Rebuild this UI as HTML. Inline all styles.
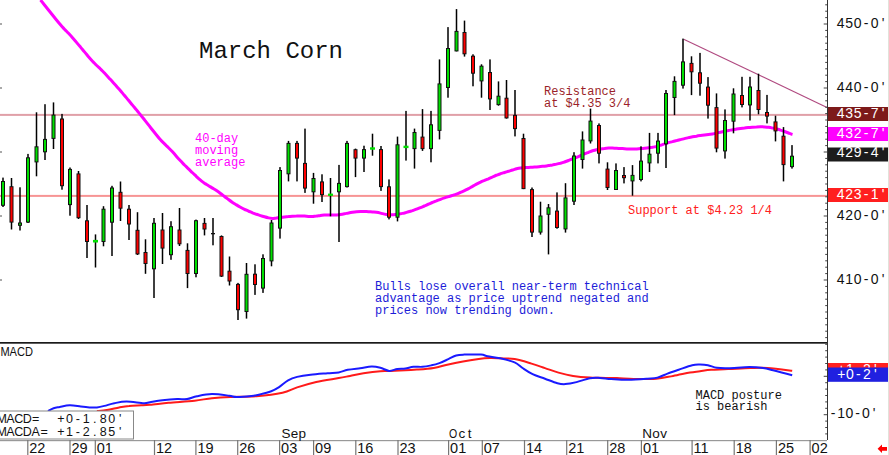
<!DOCTYPE html><html><head><meta charset="utf-8"><style>html,body{margin:0;padding:0;background:#fff;width:889px;height:455px;overflow:hidden}svg{position:absolute;left:0;top:0}.m{font-family:"Liberation Mono",monospace}.s{font-family:"Liberation Sans",sans-serif}</style></head><body>
<svg width="889" height="455" viewBox="0 0 889 455">
<rect x="0" y="0" width="889" height="455" fill="#fff"/>
<rect x="888" y="0" width="1" height="455" fill="#e2e2da"/>
<rect x="0" y="113.9" width="827" height="2" fill="#e0a0a8"/>
<rect x="0" y="194.9" width="827" height="2" fill="#f79494"/>
<line x1="683.7" y1="39.2" x2="827" y2="107.4" stroke="#b04a80" stroke-width="1.1"/>
<path d="M40.5,0.0 C41.2,0.8 43.2,3.3 44.5,5.0 C45.8,6.7 47.2,8.3 48.5,10.0 C49.8,11.7 51.2,13.3 52.5,15.0 C53.8,16.7 55.2,18.4 56.5,20.0 C57.8,21.6 59.2,23.3 60.5,24.8 C61.8,26.4 63.2,27.8 64.5,29.2 C65.8,30.6 67.2,31.9 68.5,33.3 C69.8,34.7 71.2,36.2 72.5,37.7 C73.8,39.2 75.2,40.8 76.5,42.4 C77.8,44.0 79.2,45.6 80.5,47.1 C81.8,48.7 83.2,50.3 84.5,51.9 C85.8,53.5 87.2,55.1 88.5,56.7 C89.8,58.2 91.2,59.8 92.5,61.2 C93.8,62.6 95.2,63.9 96.5,65.3 C97.8,66.6 99.2,67.7 100.5,69.0 C101.8,70.4 103.2,71.7 104.5,73.1 C105.8,74.5 107.2,76.0 108.5,77.4 C109.8,78.9 111.2,80.3 112.5,81.8 C113.8,83.3 115.2,84.7 116.5,86.2 C117.8,87.7 119.2,89.2 120.5,90.7 C121.8,92.3 123.2,93.9 124.5,95.5 C125.8,97.1 127.2,98.7 128.5,100.3 C129.8,101.9 131.2,103.5 132.5,105.1 C133.8,106.7 135.2,108.3 136.5,109.9 C137.8,111.6 139.2,113.2 140.5,114.8 C141.8,116.5 143.2,118.2 144.5,119.8 C145.8,121.5 147.2,123.2 148.5,124.9 C149.8,126.6 151.2,128.3 152.5,130.0 C153.8,131.7 155.2,133.4 156.5,135.0 C157.8,136.7 159.2,138.4 160.5,139.8 C161.8,141.3 163.2,142.6 164.5,143.9 C165.8,145.2 167.2,146.4 168.5,147.7 C169.8,149.0 171.2,150.4 172.5,151.8 C173.8,153.3 175.2,154.9 176.5,156.4 C177.8,157.9 179.2,159.4 180.5,160.8 C181.8,162.3 183.2,163.6 184.5,165.0 C185.8,166.3 187.2,167.6 188.5,168.9 C189.8,170.2 191.2,171.5 192.5,172.8 C193.8,174.1 195.2,175.3 196.5,176.6 C197.8,177.8 199.2,179.1 200.5,180.2 C201.8,181.3 203.2,182.3 204.5,183.3 C205.8,184.2 207.2,184.9 208.5,185.7 C209.8,186.5 211.2,187.3 212.5,188.1 C213.8,188.9 215.2,189.7 216.5,190.6 C217.8,191.5 219.2,192.5 220.5,193.5 C221.8,194.5 223.2,195.5 224.5,196.5 C225.8,197.5 227.2,198.5 228.5,199.5 C229.8,200.5 231.2,201.5 232.5,202.4 C233.8,203.3 235.2,204.1 236.5,204.9 C237.8,205.7 239.2,206.5 240.5,207.2 C241.8,208.0 243.2,208.7 244.5,209.3 C245.8,209.9 247.2,210.5 248.5,211.1 C249.8,211.7 251.2,212.2 252.5,212.8 C253.8,213.3 255.2,213.8 256.5,214.3 C257.8,214.7 259.2,215.2 260.5,215.6 C261.8,216.0 263.2,216.4 264.5,216.8 C265.8,217.2 267.2,217.6 268.5,217.9 C269.8,218.2 271.2,218.3 272.5,218.4 C273.8,218.4 275.2,218.1 276.5,218.0 C277.8,217.8 279.2,217.5 280.5,217.4 C281.8,217.2 283.2,217.1 284.5,216.9 C285.8,216.8 287.2,216.7 288.5,216.6 C289.8,216.4 291.2,216.3 292.5,216.2 C293.8,216.1 295.2,216.0 296.5,216.0 C297.8,215.9 299.2,215.9 300.5,216.0 C301.8,216.0 303.2,216.1 304.5,216.1 C305.8,216.2 307.2,216.3 308.5,216.4 C309.8,216.4 311.2,216.5 312.5,216.5 C313.8,216.4 315.2,216.2 316.5,216.1 C317.8,215.9 319.2,215.6 320.5,215.4 C321.8,215.2 323.2,215.1 324.5,215.0 C325.8,214.9 327.2,214.9 328.5,214.9 C329.8,214.9 331.2,215.0 332.5,215.0 C333.8,215.0 335.2,215.0 336.5,214.9 C337.8,214.8 339.2,214.7 340.5,214.5 C341.8,214.3 343.2,214.0 344.5,213.7 C345.8,213.5 347.2,213.2 348.5,213.0 C349.8,212.7 351.2,212.4 352.5,212.2 C353.8,212.0 355.2,211.8 356.5,211.7 C357.8,211.6 359.2,211.5 360.5,211.5 C361.8,211.5 363.2,211.5 364.5,211.5 C365.8,211.6 367.2,211.6 368.5,211.7 C369.8,211.8 371.2,211.9 372.5,212.0 C373.8,212.1 375.2,212.1 376.5,212.3 C377.8,212.5 379.2,212.8 380.5,213.1 C381.8,213.4 383.2,213.8 384.5,214.1 C385.8,214.4 387.2,214.6 388.5,214.7 C389.8,214.8 391.2,214.8 392.5,214.7 C393.8,214.7 395.2,214.5 396.5,214.4 C397.8,214.2 399.2,214.0 400.5,213.8 C401.8,213.5 403.2,213.3 404.5,213.0 C405.8,212.6 407.2,212.2 408.5,211.8 C409.8,211.4 411.2,211.0 412.5,210.6 C413.8,210.1 415.2,209.7 416.5,209.2 C417.8,208.7 419.2,208.1 420.5,207.6 C421.8,207.1 423.2,206.5 424.5,206.0 C425.8,205.4 427.2,204.8 428.5,204.2 C429.8,203.6 431.2,203.0 432.5,202.4 C433.8,201.9 435.2,201.3 436.5,200.8 C437.8,200.2 439.2,199.8 440.5,199.3 C441.8,198.8 443.2,198.3 444.5,197.9 C445.8,197.4 447.2,197.0 448.5,196.6 C449.8,196.2 451.2,195.9 452.5,195.4 C453.8,195.0 455.2,194.6 456.5,194.1 C457.8,193.6 459.2,193.0 460.5,192.4 C461.8,191.9 463.2,191.3 464.5,190.7 C465.8,190.0 467.2,189.3 468.5,188.6 C469.8,187.9 471.2,187.1 472.5,186.4 C473.8,185.6 475.2,184.8 476.5,184.1 C477.8,183.4 479.2,182.7 480.5,182.1 C481.8,181.4 483.2,180.9 484.5,180.4 C485.8,179.8 487.2,179.3 488.5,178.8 C489.8,178.2 491.2,177.6 492.5,177.0 C493.8,176.4 495.2,175.8 496.5,175.2 C497.8,174.7 499.2,174.1 500.5,173.7 C501.8,173.2 503.2,172.9 504.5,172.5 C505.8,172.1 507.2,171.7 508.5,171.3 C509.8,170.9 511.2,170.4 512.5,170.0 C513.8,169.6 515.2,169.1 516.5,168.7 C517.8,168.4 519.2,168.1 520.5,167.9 C521.8,167.7 523.2,167.7 524.5,167.6 C525.8,167.5 527.2,167.5 528.5,167.4 C529.8,167.3 531.2,167.3 532.5,167.2 C533.8,167.1 535.2,167.0 536.5,166.9 C537.8,166.8 539.2,166.7 540.5,166.5 C541.8,166.4 543.2,166.3 544.5,166.2 C545.8,166.0 547.2,165.8 548.5,165.6 C549.8,165.4 551.2,165.1 552.5,164.9 C553.8,164.6 555.2,164.4 556.5,164.1 C557.8,163.8 559.2,163.5 560.5,163.2 C561.8,162.8 563.2,162.4 564.5,162.0 C565.8,161.5 567.2,161.0 568.5,160.5 C569.8,160.0 571.2,159.5 572.5,158.9 C573.8,158.4 575.2,157.9 576.5,157.3 C577.8,156.8 579.2,156.2 580.5,155.6 C581.8,155.0 583.2,154.4 584.5,153.9 C585.8,153.3 587.2,152.8 588.5,152.3 C589.8,151.8 591.2,151.2 592.5,150.8 C593.8,150.4 595.2,150.0 596.5,149.7 C597.8,149.4 599.2,149.1 600.5,148.9 C601.8,148.7 603.2,148.5 604.5,148.4 C605.8,148.2 607.2,148.1 608.5,148.1 C609.8,148.1 611.2,148.1 612.5,148.1 C613.8,148.1 615.2,148.2 616.5,148.2 C617.8,148.3 619.2,148.4 620.5,148.4 C621.8,148.5 623.2,148.6 624.5,148.7 C625.8,148.8 627.2,148.9 628.5,148.9 C629.8,149.0 631.2,149.1 632.5,149.1 C633.8,149.1 635.2,149.1 636.5,149.0 C637.8,148.9 639.2,148.8 640.5,148.6 C641.8,148.5 643.2,148.4 644.5,148.2 C645.8,148.1 647.2,148.0 648.5,147.8 C649.8,147.6 651.2,147.5 652.5,147.3 C653.8,147.0 655.2,146.8 656.5,146.5 C657.8,146.1 659.2,145.7 660.5,145.2 C661.8,144.8 663.2,144.3 664.5,143.9 C665.8,143.4 667.2,143.0 668.5,142.6 C669.8,142.3 671.2,141.9 672.5,141.6 C673.8,141.2 675.2,140.9 676.5,140.6 C677.8,140.2 679.2,139.9 680.5,139.6 C681.8,139.3 683.2,138.9 684.5,138.6 C685.8,138.3 687.2,137.9 688.5,137.6 C689.8,137.3 691.2,137.1 692.5,136.8 C693.8,136.6 695.2,136.4 696.5,136.2 C697.8,135.9 699.2,135.7 700.5,135.5 C701.8,135.4 703.2,135.2 704.5,135.0 C705.8,134.8 707.2,134.6 708.5,134.4 C709.8,134.3 711.2,134.1 712.5,133.9 C713.8,133.7 715.2,133.4 716.5,133.1 C717.8,132.8 719.2,132.5 720.5,132.2 C721.8,131.9 723.2,131.6 724.5,131.3 C725.8,131.0 727.2,130.8 728.5,130.5 C729.8,130.3 731.2,130.0 732.5,129.8 C733.8,129.5 735.2,129.3 736.5,129.1 C737.8,128.9 739.2,128.7 740.5,128.5 C741.8,128.3 743.2,128.1 744.5,128.0 C745.8,127.8 747.2,127.7 748.5,127.6 C749.8,127.4 751.2,127.3 752.5,127.2 C753.8,127.1 755.2,127.0 756.5,127.0 C757.8,126.9 759.2,126.8 760.5,126.8 C761.8,126.8 763.2,126.8 764.5,126.9 C765.8,127.0 767.2,127.1 768.5,127.3 C769.8,127.5 771.2,127.8 772.5,128.1 C773.8,128.3 775.2,128.6 776.5,129.0 C777.8,129.3 779.2,129.6 780.5,130.1 C781.8,130.5 783.2,131.0 784.5,131.5 C785.8,132.0 787.2,132.5 788.5,133.0 C789.8,133.5 791.8,134.3 792.5,134.5" fill="none" stroke="#ff00ff" stroke-width="3" stroke-linejoin="round"/>
<rect x="2.25" y="177.6" width="1.5" height="29.4" fill="#000"/>
<rect x="1.0" y="181.0" width="4" height="24.8" fill="#111"/>
<rect x="2.0" y="182.0" width="2" height="22.8" fill="#00e000"/>
<rect x="10.75" y="178.0" width="1.5" height="51.5" fill="#000"/>
<rect x="9.5" y="186.2" width="4" height="36.4" fill="#111"/>
<rect x="10.5" y="187.2" width="2" height="34.4" fill="#ff0000"/>
<rect x="19.25" y="187.3" width="1.5" height="43.2" fill="#000"/>
<rect x="18.0" y="222.5" width="4" height="3.3" fill="#111"/>
<rect x="19.0" y="223.5" width="2" height="1.3" fill="#00e000"/>
<rect x="27.25" y="153.9" width="1.5" height="69.1" fill="#000"/>
<rect x="26.0" y="157.3" width="4" height="65.3" fill="#111"/>
<rect x="27.0" y="158.3" width="2" height="63.3" fill="#00e000"/>
<rect x="35.75" y="112.3" width="1.5" height="64.0" fill="#000"/>
<rect x="34.5" y="146.3" width="4" height="16.1" fill="#111"/>
<rect x="35.5" y="147.3" width="2" height="14.1" fill="#00e000"/>
<rect x="44.25" y="104.2" width="1.5" height="55.8" fill="#000"/>
<rect x="43.0" y="138.9" width="4" height="13.4" fill="#111"/>
<rect x="44.0" y="139.9" width="2" height="11.4" fill="#00e000"/>
<rect x="52.75" y="102.4" width="1.5" height="46.6" fill="#000"/>
<rect x="51.5" y="114.6" width="4" height="24.3" fill="#111"/>
<rect x="52.5" y="115.6" width="2" height="22.3" fill="#00e000"/>
<rect x="61.25" y="113.9" width="1.5" height="75.8" fill="#000"/>
<rect x="60.0" y="118.5" width="4" height="67.7" fill="#111"/>
<rect x="61.0" y="119.5" width="2" height="65.7" fill="#ff0000"/>
<rect x="69.25" y="167.5" width="1.5" height="48.2" fill="#000"/>
<rect x="68.0" y="168.9" width="4" height="36.2" fill="#111"/>
<rect x="69.0" y="169.9" width="2" height="34.2" fill="#00e000"/>
<rect x="77.75" y="171.0" width="1.5" height="48.0" fill="#000"/>
<rect x="76.5" y="173.4" width="4" height="44.8" fill="#111"/>
<rect x="77.5" y="174.4" width="2" height="42.8" fill="#ff0000"/>
<rect x="86.25" y="205.0" width="1.5" height="53.0" fill="#000"/>
<rect x="85.0" y="220.3" width="4" height="21.7" fill="#111"/>
<rect x="86.0" y="221.3" width="2" height="19.7" fill="#ff0000"/>
<rect x="94.75" y="234.4" width="1.5" height="33.1" fill="#000"/>
<rect x="93.0" y="239.9" width="5" height="2.6" fill="#00e000"/>
<rect x="102.75" y="206.2" width="1.5" height="40.1" fill="#000"/>
<rect x="101.5" y="208.7" width="4" height="33.3" fill="#111"/>
<rect x="102.5" y="209.7" width="2" height="31.3" fill="#00e000"/>
<rect x="111.25" y="185.8" width="1.5" height="70.2" fill="#000"/>
<rect x="110.0" y="187.5" width="4" height="35.2" fill="#111"/>
<rect x="111.0" y="188.5" width="2" height="33.2" fill="#00e000"/>
<rect x="119.75" y="181.5" width="1.5" height="39.5" fill="#000"/>
<rect x="118.5" y="191.8" width="4" height="16.9" fill="#111"/>
<rect x="119.5" y="192.8" width="2" height="14.9" fill="#ff0000"/>
<rect x="128.25" y="205.0" width="1.5" height="35.0" fill="#000"/>
<rect x="127.0" y="208.7" width="4" height="15.8" fill="#111"/>
<rect x="128.0" y="209.7" width="2" height="13.8" fill="#ff0000"/>
<rect x="136.75" y="212.2" width="1.5" height="42.8" fill="#000"/>
<rect x="135.5" y="229.8" width="4" height="24.6" fill="#111"/>
<rect x="136.5" y="230.8" width="2" height="22.6" fill="#ff0000"/>
<rect x="144.75" y="239.3" width="1.5" height="34.5" fill="#000"/>
<rect x="143.5" y="252.0" width="4" height="12.0" fill="#111"/>
<rect x="144.5" y="253.0" width="2" height="10.0" fill="#ff0000"/>
<rect x="153.25" y="218.0" width="1.5" height="80.0" fill="#000"/>
<rect x="152.0" y="222.8" width="4" height="46.5" fill="#111"/>
<rect x="153.0" y="223.8" width="2" height="44.5" fill="#00e000"/>
<rect x="161.75" y="213.0" width="1.5" height="51.0" fill="#000"/>
<rect x="160.5" y="229.5" width="4" height="19.1" fill="#111"/>
<rect x="161.5" y="230.5" width="2" height="17.1" fill="#ff0000"/>
<rect x="170.25" y="221.2" width="1.5" height="38.6" fill="#000"/>
<rect x="169.0" y="226.2" width="4" height="29.0" fill="#111"/>
<rect x="170.0" y="227.2" width="2" height="27.0" fill="#00e000"/>
<rect x="178.75" y="208.0" width="1.5" height="38.0" fill="#000"/>
<rect x="177.5" y="229.5" width="4" height="14.8" fill="#111"/>
<rect x="178.5" y="230.5" width="2" height="12.8" fill="#ff0000"/>
<rect x="186.75" y="243.3" width="1.5" height="44.8" fill="#000"/>
<rect x="185.5" y="249.9" width="4" height="24.1" fill="#111"/>
<rect x="186.5" y="250.9" width="2" height="22.1" fill="#ff0000"/>
<rect x="195.25" y="219.6" width="1.5" height="57.7" fill="#000"/>
<rect x="194.0" y="220.2" width="4" height="53.8" fill="#111"/>
<rect x="195.0" y="221.2" width="2" height="51.8" fill="#00e000"/>
<rect x="203.75" y="218.0" width="1.5" height="17.4" fill="#000"/>
<rect x="202.5" y="222.9" width="4" height="6.6" fill="#111"/>
<rect x="203.5" y="223.9" width="2" height="4.6" fill="#ff0000"/>
<rect x="212.25" y="218.0" width="1.5" height="27.3" fill="#000"/>
<rect x="211.0" y="233.0" width="4" height="1.3" fill="#111"/>
<rect x="220.75" y="235.4" width="1.5" height="41.6" fill="#000"/>
<rect x="219.5" y="236.0" width="4" height="40.6" fill="#111"/>
<rect x="220.5" y="237.0" width="2" height="38.6" fill="#ff0000"/>
<rect x="228.75" y="256.5" width="1.5" height="29.0" fill="#000"/>
<rect x="227.5" y="270.7" width="4" height="10.8" fill="#111"/>
<rect x="228.5" y="271.7" width="2" height="8.8" fill="#ff0000"/>
<rect x="237.25" y="282.9" width="1.5" height="37.1" fill="#000"/>
<rect x="236.0" y="283.9" width="4" height="26.3" fill="#111"/>
<rect x="237.0" y="284.9" width="2" height="24.3" fill="#ff0000"/>
<rect x="245.75" y="263.0" width="1.5" height="55.6" fill="#000"/>
<rect x="244.5" y="273.8" width="4" height="38.2" fill="#111"/>
<rect x="245.5" y="274.8" width="2" height="36.2" fill="#00e000"/>
<rect x="254.25" y="264.3" width="1.5" height="30.6" fill="#000"/>
<rect x="253.0" y="273.7" width="4" height="11.3" fill="#111"/>
<rect x="254.0" y="274.7" width="2" height="9.3" fill="#ff0000"/>
<rect x="262.25" y="254.3" width="1.5" height="38.6" fill="#000"/>
<rect x="261.0" y="258.0" width="4" height="30.6" fill="#111"/>
<rect x="262.0" y="259.0" width="2" height="28.6" fill="#00e000"/>
<rect x="270.75" y="220.0" width="1.5" height="46.3" fill="#000"/>
<rect x="269.5" y="222.5" width="4" height="38.9" fill="#111"/>
<rect x="270.5" y="223.5" width="2" height="36.9" fill="#00e000"/>
<rect x="279.25" y="167.1" width="1.5" height="71.5" fill="#000"/>
<rect x="278.0" y="170.0" width="4" height="58.6" fill="#111"/>
<rect x="279.0" y="171.0" width="2" height="56.6" fill="#00e000"/>
<rect x="287.75" y="140.9" width="1.5" height="40.5" fill="#000"/>
<rect x="286.5" y="142.9" width="4" height="31.4" fill="#111"/>
<rect x="287.5" y="143.9" width="2" height="29.4" fill="#00e000"/>
<rect x="296.25" y="140.9" width="1.5" height="40.5" fill="#000"/>
<rect x="295.0" y="142.9" width="4" height="15.7" fill="#111"/>
<rect x="296.0" y="143.9" width="2" height="13.7" fill="#ff0000"/>
<rect x="304.25" y="128.6" width="1.5" height="64.3" fill="#000"/>
<rect x="303.0" y="162.9" width="4" height="25.7" fill="#111"/>
<rect x="304.0" y="163.9" width="2" height="23.7" fill="#ff0000"/>
<rect x="312.75" y="172.9" width="1.5" height="30.8" fill="#000"/>
<rect x="311.5" y="178.0" width="4" height="14.3" fill="#111"/>
<rect x="312.5" y="179.0" width="2" height="12.3" fill="#00e000"/>
<rect x="321.25" y="174.3" width="1.5" height="27.7" fill="#000"/>
<rect x="320.0" y="181.4" width="4" height="13.7" fill="#111"/>
<rect x="321.0" y="182.4" width="2" height="11.7" fill="#ff0000"/>
<rect x="329.75" y="178.0" width="1.5" height="38.3" fill="#000"/>
<rect x="328.0" y="193.6" width="5" height="2.3" fill="#00e000"/>
<rect x="338.25" y="164.9" width="1.5" height="77.1" fill="#000"/>
<rect x="337.0" y="182.9" width="4" height="9.4" fill="#111"/>
<rect x="338.0" y="183.9" width="2" height="7.4" fill="#00e000"/>
<rect x="346.25" y="140.9" width="1.5" height="46.6" fill="#000"/>
<rect x="345.0" y="142.9" width="4" height="44.2" fill="#111"/>
<rect x="346.0" y="143.9" width="2" height="42.2" fill="#00e000"/>
<rect x="354.75" y="148.6" width="1.5" height="28.5" fill="#000"/>
<rect x="353.5" y="149.2" width="4" height="9.4" fill="#111"/>
<rect x="354.5" y="150.2" width="2" height="7.4" fill="#ff0000"/>
<rect x="363.25" y="145.7" width="1.5" height="26.3" fill="#000"/>
<rect x="362.0" y="149.1" width="4" height="9.5" fill="#111"/>
<rect x="363.0" y="150.1" width="2" height="7.5" fill="#00e000"/>
<rect x="371.75" y="133.7" width="1.5" height="22.0" fill="#000"/>
<rect x="370.0" y="147.3" width="5" height="2.4" fill="#00e000"/>
<rect x="380.25" y="146.0" width="1.5" height="44.9" fill="#000"/>
<rect x="379.0" y="149.1" width="4" height="38.0" fill="#111"/>
<rect x="380.0" y="150.1" width="2" height="36.0" fill="#ff0000"/>
<rect x="388.25" y="179.4" width="1.5" height="40.0" fill="#000"/>
<rect x="387.0" y="186.3" width="4" height="31.4" fill="#111"/>
<rect x="388.0" y="187.3" width="2" height="29.4" fill="#ff0000"/>
<rect x="396.75" y="136.6" width="1.5" height="84.8" fill="#000"/>
<rect x="395.5" y="144.3" width="4" height="73.4" fill="#111"/>
<rect x="396.5" y="145.3" width="2" height="71.4" fill="#00e000"/>
<rect x="405.25" y="110.9" width="1.5" height="49.7" fill="#000"/>
<rect x="403.5" y="145.7" width="5" height="2.4" fill="#00e000"/>
<rect x="413.75" y="128.6" width="1.5" height="40.0" fill="#000"/>
<rect x="412.5" y="132.0" width="4" height="17.1" fill="#111"/>
<rect x="413.5" y="133.0" width="2" height="15.1" fill="#00e000"/>
<rect x="421.75" y="109.1" width="1.5" height="41.8" fill="#000"/>
<rect x="420.5" y="136.6" width="4" height="12.5" fill="#111"/>
<rect x="421.5" y="137.6" width="2" height="10.5" fill="#ff0000"/>
<rect x="430.25" y="110.9" width="1.5" height="51.4" fill="#000"/>
<rect x="429.0" y="124.3" width="4" height="24.8" fill="#111"/>
<rect x="430.0" y="125.3" width="2" height="22.8" fill="#00e000"/>
<rect x="438.75" y="59.4" width="1.5" height="80.0" fill="#000"/>
<rect x="437.5" y="83.4" width="4" height="47.5" fill="#111"/>
<rect x="438.5" y="84.4" width="2" height="45.5" fill="#00e000"/>
<rect x="447.25" y="27.1" width="1.5" height="70.6" fill="#000"/>
<rect x="446.0" y="48.0" width="4" height="40.0" fill="#111"/>
<rect x="447.0" y="49.0" width="2" height="38.0" fill="#00e000"/>
<rect x="455.75" y="9.1" width="1.5" height="42.3" fill="#000"/>
<rect x="454.5" y="30.9" width="4" height="20.5" fill="#111"/>
<rect x="455.5" y="31.9" width="2" height="18.5" fill="#00e000"/>
<rect x="463.75" y="20.6" width="1.5" height="36.0" fill="#000"/>
<rect x="462.5" y="32.0" width="4" height="22.3" fill="#111"/>
<rect x="463.5" y="33.0" width="2" height="20.3" fill="#ff0000"/>
<rect x="472.25" y="54.3" width="1.5" height="32.0" fill="#000"/>
<rect x="471.0" y="55.7" width="4" height="18.0" fill="#111"/>
<rect x="472.0" y="56.7" width="2" height="16.0" fill="#ff0000"/>
<rect x="480.75" y="64.3" width="1.5" height="33.4" fill="#000"/>
<rect x="479.5" y="65.7" width="4" height="15.7" fill="#111"/>
<rect x="480.5" y="66.7" width="2" height="13.7" fill="#00e000"/>
<rect x="489.25" y="59.4" width="1.5" height="50.6" fill="#000"/>
<rect x="488.0" y="72.0" width="4" height="27.4" fill="#111"/>
<rect x="489.0" y="73.0" width="2" height="25.4" fill="#ff0000"/>
<rect x="497.75" y="81.4" width="1.5" height="24.3" fill="#000"/>
<rect x="496.5" y="95.7" width="4" height="9.4" fill="#111"/>
<rect x="497.5" y="96.7" width="2" height="7.4" fill="#00e000"/>
<rect x="505.75" y="80.0" width="1.5" height="38.6" fill="#000"/>
<rect x="504.5" y="97.7" width="4" height="20.7" fill="#111"/>
<rect x="505.5" y="98.7" width="2" height="18.7" fill="#ff0000"/>
<rect x="514.25" y="90.0" width="1.5" height="46.4" fill="#000"/>
<rect x="513.0" y="114.9" width="4" height="14.2" fill="#111"/>
<rect x="514.0" y="115.9" width="2" height="12.2" fill="#ff0000"/>
<rect x="522.75" y="133.7" width="1.5" height="55.4" fill="#000"/>
<rect x="521.5" y="138.0" width="4" height="51.1" fill="#111"/>
<rect x="522.5" y="139.0" width="2" height="49.1" fill="#ff0000"/>
<rect x="531.25" y="187.5" width="1.5" height="49.5" fill="#000"/>
<rect x="530.0" y="189.1" width="4" height="43.5" fill="#111"/>
<rect x="531.0" y="190.1" width="2" height="41.5" fill="#ff0000"/>
<rect x="539.75" y="201.7" width="1.5" height="32.9" fill="#000"/>
<rect x="538.5" y="215.5" width="4" height="17.1" fill="#111"/>
<rect x="539.5" y="216.5" width="2" height="15.1" fill="#00e000"/>
<rect x="547.75" y="204.0" width="1.5" height="50.4" fill="#000"/>
<rect x="546.5" y="207.3" width="4" height="7.5" fill="#111"/>
<rect x="547.5" y="208.3" width="2" height="5.5" fill="#00e000"/>
<rect x="556.25" y="192.4" width="1.5" height="36.3" fill="#000"/>
<rect x="555.0" y="210.6" width="4" height="17.4" fill="#111"/>
<rect x="556.0" y="211.6" width="2" height="15.4" fill="#ff0000"/>
<rect x="564.75" y="183.2" width="1.5" height="49.4" fill="#000"/>
<rect x="563.5" y="197.4" width="4" height="32.0" fill="#111"/>
<rect x="564.5" y="198.4" width="2" height="30.0" fill="#00e000"/>
<rect x="573.25" y="152.2" width="1.5" height="52.8" fill="#000"/>
<rect x="572.0" y="155.5" width="4" height="46.2" fill="#111"/>
<rect x="573.0" y="156.5" width="2" height="44.2" fill="#00e000"/>
<rect x="581.75" y="131.4" width="1.5" height="37.2" fill="#000"/>
<rect x="580.5" y="139.5" width="4" height="20.5" fill="#111"/>
<rect x="581.5" y="140.5" width="2" height="18.5" fill="#00e000"/>
<rect x="589.75" y="108.6" width="1.5" height="34.9" fill="#000"/>
<rect x="588.5" y="120.6" width="4" height="20.8" fill="#111"/>
<rect x="589.5" y="121.6" width="2" height="18.8" fill="#00e000"/>
<rect x="598.25" y="123.4" width="1.5" height="40.0" fill="#000"/>
<rect x="597.0" y="125.0" width="4" height="28.7" fill="#111"/>
<rect x="598.0" y="126.0" width="2" height="26.7" fill="#ff0000"/>
<rect x="606.75" y="162.3" width="1.5" height="27.7" fill="#000"/>
<rect x="605.5" y="168.6" width="4" height="19.4" fill="#111"/>
<rect x="606.5" y="169.6" width="2" height="17.4" fill="#ff0000"/>
<rect x="615.25" y="163.4" width="1.5" height="26.6" fill="#000"/>
<rect x="614.0" y="170.0" width="4" height="20.0" fill="#111"/>
<rect x="615.0" y="171.0" width="2" height="18.0" fill="#00e000"/>
<rect x="623.25" y="167.1" width="1.5" height="16.3" fill="#000"/>
<rect x="622.0" y="175.0" width="4" height="3.2" fill="#111"/>
<rect x="623.0" y="176.0" width="2" height="1.2" fill="#ff0000"/>
<rect x="631.75" y="165.1" width="1.5" height="30.6" fill="#000"/>
<rect x="630.5" y="174.9" width="4" height="6.5" fill="#111"/>
<rect x="631.5" y="175.9" width="2" height="4.5" fill="#00e000"/>
<rect x="640.25" y="146.3" width="1.5" height="35.1" fill="#000"/>
<rect x="639.0" y="160.6" width="4" height="19.4" fill="#111"/>
<rect x="640.0" y="161.6" width="2" height="17.4" fill="#00e000"/>
<rect x="648.75" y="132.9" width="1.5" height="39.1" fill="#000"/>
<rect x="647.5" y="153.7" width="4" height="9.7" fill="#111"/>
<rect x="648.5" y="154.7" width="2" height="7.7" fill="#00e000"/>
<rect x="657.25" y="132.9" width="1.5" height="30.5" fill="#000"/>
<rect x="656.0" y="140.6" width="4" height="13.1" fill="#111"/>
<rect x="657.0" y="141.6" width="2" height="11.1" fill="#00e000"/>
<rect x="665.25" y="90.0" width="1.5" height="78.0" fill="#000"/>
<rect x="664.0" y="93.0" width="4" height="51.3" fill="#111"/>
<rect x="665.0" y="94.0" width="2" height="49.3" fill="#00e000"/>
<rect x="673.75" y="76.3" width="1.5" height="38.8" fill="#000"/>
<rect x="672.5" y="80.9" width="4" height="17.1" fill="#111"/>
<rect x="673.5" y="81.9" width="2" height="15.1" fill="#00e000"/>
<rect x="682.25" y="38.6" width="1.5" height="50.0" fill="#000"/>
<rect x="681.0" y="61.4" width="4" height="24.3" fill="#111"/>
<rect x="682.0" y="62.4" width="2" height="22.3" fill="#00e000"/>
<rect x="690.75" y="56.3" width="1.5" height="38.8" fill="#000"/>
<rect x="689.5" y="62.9" width="4" height="9.4" fill="#111"/>
<rect x="690.5" y="63.9" width="2" height="7.4" fill="#ff0000"/>
<rect x="699.25" y="52.9" width="1.5" height="42.8" fill="#000"/>
<rect x="698.0" y="72.3" width="4" height="11.4" fill="#111"/>
<rect x="699.0" y="73.3" width="2" height="9.4" fill="#ff0000"/>
<rect x="707.25" y="77.1" width="1.5" height="41.5" fill="#000"/>
<rect x="706.0" y="86.6" width="4" height="19.1" fill="#111"/>
<rect x="707.0" y="87.6" width="2" height="17.1" fill="#ff0000"/>
<rect x="715.75" y="93.4" width="1.5" height="58.9" fill="#000"/>
<rect x="714.5" y="107.1" width="4" height="41.5" fill="#111"/>
<rect x="715.5" y="108.1" width="2" height="39.5" fill="#ff0000"/>
<rect x="724.25" y="109.4" width="1.5" height="49.2" fill="#000"/>
<rect x="723.0" y="120.0" width="4" height="31.4" fill="#111"/>
<rect x="724.0" y="121.0" width="2" height="29.4" fill="#00e000"/>
<rect x="732.75" y="88.3" width="1.5" height="45.0" fill="#000"/>
<rect x="731.5" y="93.5" width="4" height="28.2" fill="#111"/>
<rect x="732.5" y="94.5" width="2" height="26.2" fill="#00e000"/>
<rect x="741.25" y="76.8" width="1.5" height="30.6" fill="#000"/>
<rect x="740.0" y="95.0" width="4" height="10.0" fill="#111"/>
<rect x="741.0" y="96.0" width="2" height="8.0" fill="#ff0000"/>
<rect x="749.25" y="76.8" width="1.5" height="43.7" fill="#000"/>
<rect x="748.0" y="86.5" width="4" height="18.9" fill="#111"/>
<rect x="749.0" y="87.5" width="2" height="16.9" fill="#00e000"/>
<rect x="757.75" y="73.7" width="1.5" height="40.6" fill="#000"/>
<rect x="756.5" y="90.0" width="4" height="20.0" fill="#111"/>
<rect x="757.5" y="91.0" width="2" height="18.0" fill="#ff0000"/>
<rect x="766.25" y="94.9" width="1.5" height="28.5" fill="#000"/>
<rect x="765.0" y="112.0" width="4" height="4.6" fill="#111"/>
<rect x="766.0" y="113.0" width="2" height="2.6" fill="#ff0000"/>
<rect x="774.75" y="115.7" width="1.5" height="25.7" fill="#000"/>
<rect x="773.5" y="121.4" width="4" height="10.0" fill="#111"/>
<rect x="774.5" y="122.4" width="2" height="8.0" fill="#ff0000"/>
<rect x="782.75" y="127.1" width="1.5" height="54.3" fill="#000"/>
<rect x="781.5" y="135.7" width="4" height="29.4" fill="#111"/>
<rect x="782.5" y="136.7" width="2" height="27.4" fill="#ff0000"/>
<rect x="791.25" y="145.1" width="1.5" height="23.5" fill="#000"/>
<rect x="790.0" y="155.7" width="4" height="11.4" fill="#111"/>
<rect x="791.0" y="156.7" width="2" height="9.4" fill="#00e000"/>
<rect x="827" y="0" width="1" height="440" fill="#333"/>
<rect x="825.2" y="4.3" width="1.8" height="1" fill="#444"/>
<rect x="825.2" y="10.7" width="1.8" height="1" fill="#444"/>
<rect x="825.2" y="17.1" width="1.8" height="1" fill="#444"/>
<rect x="823.7" y="23.5" width="3.3" height="1" fill="#444"/>
<rect x="825.2" y="29.9" width="1.8" height="1" fill="#444"/>
<rect x="825.2" y="36.3" width="1.8" height="1" fill="#444"/>
<rect x="825.2" y="42.7" width="1.8" height="1" fill="#444"/>
<rect x="825.2" y="49.1" width="1.8" height="1" fill="#444"/>
<rect x="825.2" y="55.5" width="1.8" height="1" fill="#444"/>
<rect x="825.2" y="61.9" width="1.8" height="1" fill="#444"/>
<rect x="825.2" y="68.3" width="1.8" height="1" fill="#444"/>
<rect x="825.2" y="74.7" width="1.8" height="1" fill="#444"/>
<rect x="825.2" y="81.1" width="1.8" height="1" fill="#444"/>
<rect x="823.7" y="87.5" width="3.3" height="1" fill="#444"/>
<rect x="825.2" y="93.9" width="1.8" height="1" fill="#444"/>
<rect x="825.2" y="100.3" width="1.8" height="1" fill="#444"/>
<rect x="825.2" y="106.7" width="1.8" height="1" fill="#444"/>
<rect x="825.2" y="113.1" width="1.8" height="1" fill="#444"/>
<rect x="825.2" y="119.5" width="1.8" height="1" fill="#444"/>
<rect x="825.2" y="125.9" width="1.8" height="1" fill="#444"/>
<rect x="825.2" y="132.3" width="1.8" height="1" fill="#444"/>
<rect x="825.2" y="138.7" width="1.8" height="1" fill="#444"/>
<rect x="825.2" y="145.1" width="1.8" height="1" fill="#444"/>
<rect x="823.7" y="151.5" width="3.3" height="1" fill="#444"/>
<rect x="825.2" y="157.9" width="1.8" height="1" fill="#444"/>
<rect x="825.2" y="164.3" width="1.8" height="1" fill="#444"/>
<rect x="825.2" y="170.7" width="1.8" height="1" fill="#444"/>
<rect x="825.2" y="177.1" width="1.8" height="1" fill="#444"/>
<rect x="825.2" y="183.5" width="1.8" height="1" fill="#444"/>
<rect x="825.2" y="189.9" width="1.8" height="1" fill="#444"/>
<rect x="825.2" y="196.3" width="1.8" height="1" fill="#444"/>
<rect x="825.2" y="202.7" width="1.8" height="1" fill="#444"/>
<rect x="825.2" y="209.1" width="1.8" height="1" fill="#444"/>
<rect x="823.7" y="215.5" width="3.3" height="1" fill="#444"/>
<rect x="825.2" y="221.9" width="1.8" height="1" fill="#444"/>
<rect x="825.2" y="228.3" width="1.8" height="1" fill="#444"/>
<rect x="825.2" y="234.7" width="1.8" height="1" fill="#444"/>
<rect x="825.2" y="241.1" width="1.8" height="1" fill="#444"/>
<rect x="825.2" y="247.5" width="1.8" height="1" fill="#444"/>
<rect x="825.2" y="253.9" width="1.8" height="1" fill="#444"/>
<rect x="825.2" y="260.3" width="1.8" height="1" fill="#444"/>
<rect x="825.2" y="266.7" width="1.8" height="1" fill="#444"/>
<rect x="825.2" y="273.1" width="1.8" height="1" fill="#444"/>
<rect x="823.7" y="279.5" width="3.3" height="1" fill="#444"/>
<rect x="825.2" y="285.9" width="1.8" height="1" fill="#444"/>
<rect x="825.2" y="292.3" width="1.8" height="1" fill="#444"/>
<rect x="825.2" y="298.7" width="1.8" height="1" fill="#444"/>
<rect x="825.2" y="305.1" width="1.8" height="1" fill="#444"/>
<rect x="825.2" y="311.5" width="1.8" height="1" fill="#444"/>
<rect x="825.2" y="317.9" width="1.8" height="1" fill="#444"/>
<rect x="825.2" y="324.3" width="1.8" height="1" fill="#444"/>
<rect x="825.2" y="330.7" width="1.8" height="1" fill="#444"/>
<rect x="825.2" y="337.1" width="1.8" height="1" fill="#444"/>
<rect x="0" y="23.5" width="2" height="1" fill="#555"/>
<rect x="0" y="87.5" width="2" height="1" fill="#555"/>
<rect x="0" y="151.5" width="2" height="1" fill="#555"/>
<rect x="0" y="215.5" width="2" height="1" fill="#555"/>
<rect x="0" y="279.5" width="2" height="1" fill="#555"/>
<text x="840.6" y="27.9" text-anchor="middle" class="s" font-size="14" fill="#111">4</text><text x="849.1" y="27.9" text-anchor="middle" class="s" font-size="14" fill="#111">5</text><text x="857.6" y="27.9" text-anchor="middle" class="s" font-size="14" fill="#111">0</text><text x="866.1" y="27.9" text-anchor="middle" class="s" font-size="14" fill="#111">-</text><text x="874.6" y="27.9" text-anchor="middle" class="s" font-size="14" fill="#111">0</text><text x="883.1" y="27.9" text-anchor="middle" class="s" font-size="14" fill="#111">'</text>
<text x="840.6" y="91.9" text-anchor="middle" class="s" font-size="14" fill="#111">4</text><text x="849.1" y="91.9" text-anchor="middle" class="s" font-size="14" fill="#111">4</text><text x="857.6" y="91.9" text-anchor="middle" class="s" font-size="14" fill="#111">0</text><text x="866.1" y="91.9" text-anchor="middle" class="s" font-size="14" fill="#111">-</text><text x="874.6" y="91.9" text-anchor="middle" class="s" font-size="14" fill="#111">0</text><text x="883.1" y="91.9" text-anchor="middle" class="s" font-size="14" fill="#111">'</text>
<text x="840.6" y="219.9" text-anchor="middle" class="s" font-size="14" fill="#111">4</text><text x="849.1" y="219.9" text-anchor="middle" class="s" font-size="14" fill="#111">2</text><text x="857.6" y="219.9" text-anchor="middle" class="s" font-size="14" fill="#111">0</text><text x="866.1" y="219.9" text-anchor="middle" class="s" font-size="14" fill="#111">-</text><text x="874.6" y="219.9" text-anchor="middle" class="s" font-size="14" fill="#111">0</text><text x="883.1" y="219.9" text-anchor="middle" class="s" font-size="14" fill="#111">'</text>
<text x="840.6" y="283.9" text-anchor="middle" class="s" font-size="14" fill="#111">4</text><text x="849.1" y="283.9" text-anchor="middle" class="s" font-size="14" fill="#111">1</text><text x="857.6" y="283.9" text-anchor="middle" class="s" font-size="14" fill="#111">0</text><text x="866.1" y="283.9" text-anchor="middle" class="s" font-size="14" fill="#111">-</text><text x="874.6" y="283.9" text-anchor="middle" class="s" font-size="14" fill="#111">0</text><text x="883.1" y="283.9" text-anchor="middle" class="s" font-size="14" fill="#111">'</text>
<rect x="828" y="107" width="60" height="14" fill="#7d1a1a"/>
<text x="840.6" y="117.9" text-anchor="middle" class="s" font-size="14" fill="#fff">4</text><text x="849.1" y="117.9" text-anchor="middle" class="s" font-size="14" fill="#fff">3</text><text x="857.6" y="117.9" text-anchor="middle" class="s" font-size="14" fill="#fff">5</text><text x="866.1" y="117.9" text-anchor="middle" class="s" font-size="14" fill="#fff">-</text><text x="874.6" y="117.9" text-anchor="middle" class="s" font-size="14" fill="#fff">7</text><text x="883.1" y="117.9" text-anchor="middle" class="s" font-size="14" fill="#fff">'</text>
<rect x="828" y="127" width="60" height="14" fill="#ff00ff"/>
<text x="840.6" y="137.9" text-anchor="middle" class="s" font-size="14" fill="#fff">4</text><text x="849.1" y="137.9" text-anchor="middle" class="s" font-size="14" fill="#fff">3</text><text x="857.6" y="137.9" text-anchor="middle" class="s" font-size="14" fill="#fff">2</text><text x="866.1" y="137.9" text-anchor="middle" class="s" font-size="14" fill="#fff">-</text><text x="874.6" y="137.9" text-anchor="middle" class="s" font-size="14" fill="#fff">7</text><text x="883.1" y="137.9" text-anchor="middle" class="s" font-size="14" fill="#fff">'</text>
<rect x="828" y="147.5" width="60" height="14.0" fill="#1c1c1c"/>
<text x="840.6" y="156.6" text-anchor="middle" class="s" font-size="14" fill="#fff">4</text><text x="849.1" y="156.6" text-anchor="middle" class="s" font-size="14" fill="#fff">2</text><text x="857.6" y="156.6" text-anchor="middle" class="s" font-size="14" fill="#fff">9</text><text x="866.1" y="156.6" text-anchor="middle" class="s" font-size="14" fill="#fff">-</text><text x="874.6" y="156.6" text-anchor="middle" class="s" font-size="14" fill="#fff">4</text><text x="883.1" y="156.6" text-anchor="middle" class="s" font-size="14" fill="#fff">'</text>
<rect x="828" y="188" width="60" height="14" fill="#ff1f1f"/>
<text x="840.6" y="198.9" text-anchor="middle" class="s" font-size="14" fill="#fff">4</text><text x="849.1" y="198.9" text-anchor="middle" class="s" font-size="14" fill="#fff">2</text><text x="857.6" y="198.9" text-anchor="middle" class="s" font-size="14" fill="#fff">3</text><text x="866.1" y="198.9" text-anchor="middle" class="s" font-size="14" fill="#fff">-</text><text x="874.6" y="198.9" text-anchor="middle" class="s" font-size="14" fill="#fff">1</text><text x="883.1" y="198.9" text-anchor="middle" class="s" font-size="14" fill="#fff">'</text>
<rect x="0" y="342" width="827" height="1.7" fill="#1a1a1a"/>
<rect x="825.2" y="343.8" width="1.8" height="1" fill="#444"/>
<rect x="825.2" y="350.2" width="1.8" height="1" fill="#444"/>
<rect x="825.2" y="356.6" width="1.8" height="1" fill="#444"/>
<rect x="825.2" y="363.0" width="1.8" height="1" fill="#444"/>
<rect x="825.2" y="369.4" width="1.8" height="1" fill="#444"/>
<rect x="823.7" y="375.8" width="3.3" height="1" fill="#444"/>
<rect x="825.2" y="382.2" width="1.8" height="1" fill="#444"/>
<rect x="825.2" y="388.6" width="1.8" height="1" fill="#444"/>
<rect x="825.2" y="395.0" width="1.8" height="1" fill="#444"/>
<rect x="825.2" y="401.4" width="1.8" height="1" fill="#444"/>
<rect x="825.2" y="407.8" width="1.8" height="1" fill="#444"/>
<rect x="823.7" y="414.2" width="3.3" height="1" fill="#444"/>
<rect x="825.2" y="420.6" width="1.8" height="1" fill="#444"/>
<rect x="825.2" y="427.0" width="1.8" height="1" fill="#444"/>
<rect x="825.2" y="433.4" width="1.8" height="1" fill="#444"/>
<text x="833.0" y="417.8" text-anchor="middle" class="s" font-size="14" fill="#111">-</text><text x="841.2" y="417.8" text-anchor="middle" class="s" font-size="14" fill="#111">1</text><text x="849.4" y="417.8" text-anchor="middle" class="s" font-size="14" fill="#111">0</text><text x="857.6" y="417.8" text-anchor="middle" class="s" font-size="14" fill="#111">-</text><text x="865.8" y="417.8" text-anchor="middle" class="s" font-size="14" fill="#111">0</text><text x="874.0" y="417.8" text-anchor="middle" class="s" font-size="14" fill="#111">'</text>
<rect x="828" y="363" width="60" height="14" fill="#ff2020"/>
<text x="841.4" y="373.9" text-anchor="middle" class="s" font-size="14" fill="#fff">+</text><text x="849.9" y="373.9" text-anchor="middle" class="s" font-size="14" fill="#fff">1</text><text x="858.4" y="373.9" text-anchor="middle" class="s" font-size="14" fill="#fff">-</text><text x="866.9" y="373.9" text-anchor="middle" class="s" font-size="14" fill="#fff">2</text><text x="875.4" y="373.9" text-anchor="middle" class="s" font-size="14" fill="#fff">'</text>
<rect x="828" y="367.5" width="60" height="14.3" fill="#2020e0"/>
<text x="841.4" y="378.5" text-anchor="middle" class="s" font-size="14" fill="#fff">+</text><text x="849.9" y="378.5" text-anchor="middle" class="s" font-size="14" fill="#fff">0</text><text x="858.4" y="378.5" text-anchor="middle" class="s" font-size="14" fill="#fff">-</text><text x="866.9" y="378.5" text-anchor="middle" class="s" font-size="14" fill="#fff">2</text><text x="875.4" y="378.5" text-anchor="middle" class="s" font-size="14" fill="#fff">'</text>
<path d="M96.9,411.1 C98.6,410.9 103.1,410.5 106.8,409.9 C110.5,409.3 115.5,408.1 119.2,407.4 C122.9,406.7 125.4,406.2 129.1,405.9 C132.8,405.5 138.0,405.5 141.5,405.3 C145.0,405.1 145.5,405.1 150.0,404.7 C154.5,404.3 161.2,403.5 168.6,402.8 C176.0,402.1 187.4,401.5 194.6,400.7 C201.8,399.9 205.9,398.8 211.9,398.2 C217.9,397.6 223.0,397.3 230.4,397.0 C237.8,396.7 247.7,396.9 256.4,396.2 C265.1,395.5 275.7,394.2 282.5,392.7 C289.3,391.2 291.5,389.2 297.1,387.4 C302.7,385.6 309.3,383.6 316.2,382.0 C323.1,380.4 333.1,379.1 338.7,378.1 C344.3,377.1 345.9,376.7 350.0,375.9 C354.1,375.1 358.4,374.0 363.5,373.2 C368.6,372.4 375.9,371.5 380.4,371.2 C384.9,370.9 387.2,371.2 390.5,371.1 C393.8,371.0 395.6,370.9 400.0,370.6 C404.4,370.3 411.3,369.9 416.9,369.5 C422.5,369.1 428.6,368.7 433.7,367.9 C438.8,367.1 442.3,365.8 447.2,364.7 C452.1,363.6 457.8,362.4 463.0,361.4 C468.2,360.4 474.2,359.5 478.7,358.9 C483.2,358.3 486.4,358.1 490.0,358.0 C493.6,357.9 495.9,358.1 500.0,358.3 C504.1,358.5 509.4,358.2 514.6,359.1 C519.9,360.0 526.4,362.1 531.5,363.6 C536.6,365.1 540.5,366.6 545.0,368.1 C549.5,369.6 553.8,371.3 558.5,372.6 C563.2,373.9 567.9,375.1 573.1,375.9 C578.4,376.7 585.5,377.3 590.0,377.6 C594.5,377.9 595.5,377.7 600.0,377.8 C604.5,377.9 611.3,377.9 616.9,378.1 C622.5,378.3 627.2,378.9 633.7,379.0 C640.2,379.1 649.6,379.2 656.2,378.7 C662.8,378.2 667.5,376.9 673.1,375.9 C678.7,374.9 685.5,373.3 690.0,372.5 C694.5,371.7 696.5,371.7 700.0,371.2 C703.5,370.7 706.5,370.0 711.2,369.7 C715.9,369.4 721.5,369.4 728.1,369.1 C734.7,368.8 744.0,368.2 750.6,368.0 C757.2,367.8 760.6,367.5 767.5,368.0 C774.4,368.5 788.1,370.3 792.2,370.8" fill="none" stroke="#ff1a1a" stroke-width="2" stroke-linejoin="round"/>
<path d="M48.0,411.1 C48.9,410.6 51.6,408.9 53.6,408.2 C55.6,407.5 57.1,407.4 59.8,406.9 C62.5,406.4 66.2,405.4 69.7,405.3 C73.2,405.2 77.5,406.2 80.8,406.6 C84.1,407.0 86.8,407.3 89.5,407.4 C92.2,407.5 94.4,407.6 96.9,407.4 C99.4,407.1 101.5,406.6 104.4,405.9 C107.3,405.2 110.6,403.9 114.3,403.2 C118.0,402.5 121.6,401.6 126.6,401.6 C131.5,401.6 140.1,403.1 144.0,403.2 C147.9,403.3 146.9,402.7 150.0,402.2 C153.1,401.7 157.9,400.8 162.4,400.3 C166.9,399.8 173.1,399.3 177.2,399.1 C181.3,398.9 183.8,399.6 187.1,399.1 C190.4,398.6 192.9,397.0 197.0,396.2 C201.1,395.4 206.5,394.2 211.9,394.1 C217.3,394.0 225.1,395.2 229.2,395.7 C233.3,396.2 232.9,396.9 236.6,397.0 C240.3,397.1 247.6,396.4 251.5,396.0 C255.4,395.6 256.7,395.2 260.0,394.4 C263.3,393.6 268.0,392.4 271.2,391.2 C274.4,390.0 276.3,388.9 279.1,387.1 C281.9,385.3 285.1,382.0 288.1,380.3 C291.1,378.6 293.4,377.8 297.1,376.9 C300.9,376.0 305.5,375.3 310.6,374.7 C315.7,374.1 322.8,373.6 327.5,373.2 C332.2,372.8 335.3,373.0 338.7,372.4 C342.1,371.8 344.1,370.5 347.7,369.8 C351.3,369.1 356.1,368.7 360.1,368.2 C364.1,367.7 368.2,366.7 371.6,366.6 C375.0,366.5 377.5,367.1 380.4,367.8 C383.3,368.5 386.4,370.7 389.2,370.9 C392.0,371.1 394.6,369.3 397.3,368.9 C400.0,368.5 402.7,368.9 405.4,368.5 C408.1,368.1 410.6,367.1 413.5,366.8 C416.4,366.5 419.5,367.1 422.5,366.8 C425.5,366.6 428.7,365.9 431.5,365.3 C434.3,364.7 436.6,364.1 439.4,363.1 C442.2,362.1 445.6,360.4 448.4,359.1 C451.2,357.8 453.6,356.2 456.2,355.5 C458.8,354.8 460.0,354.8 464.1,354.6 C468.2,354.5 477.1,354.3 481.0,354.6 C484.9,354.9 484.5,355.7 487.7,356.3 C490.9,356.9 495.5,357.3 500.0,358.3 C504.5,359.3 510.9,360.8 514.6,362.4 C518.4,364.0 519.5,366.0 522.5,368.0 C525.5,370.0 528.9,372.4 532.6,374.2 C536.4,376.0 540.9,377.2 545.0,378.7 C549.1,380.2 554.0,382.3 557.4,383.2 C560.8,384.1 562.0,384.3 565.2,384.1 C568.4,383.9 572.4,383.1 576.5,382.1 C580.6,381.1 586.1,378.9 590.0,378.2 C593.9,377.5 596.5,377.8 600.0,377.9 C603.5,378.0 606.5,378.7 611.2,379.0 C615.9,379.3 622.1,379.9 628.1,379.8 C634.1,379.8 642.3,379.1 647.2,378.7 C652.1,378.3 654.0,378.5 657.4,377.6 C660.8,376.8 664.0,374.9 667.5,373.6 C671.0,372.3 674.6,371.1 678.7,369.7 C682.8,368.3 688.7,366.0 692.2,365.2 C695.8,364.4 697.4,364.6 700.0,364.6 C702.6,364.6 705.1,364.7 707.9,365.2 C710.7,365.7 713.5,367.3 716.9,367.8 C720.3,368.3 722.7,368.3 728.1,368.2 C733.5,368.1 743.7,367.1 749.5,367.1 C755.3,367.1 759.1,367.5 763.0,368.0 C766.9,368.5 768.2,369.0 773.1,370.2 C778.0,371.4 789.0,374.4 792.2,375.3" fill="none" stroke="#1a1aff" stroke-width="2" stroke-linejoin="round"/>
<text x="0.4" y="355.8" class="s" font-size="13.4" fill="#111" textLength="32.6" lengthAdjust="spacingAndGlyphs">MACD</text>
<rect x="-1" y="411" width="134.5" height="28" fill="#fff" stroke="#888" stroke-width="1"/>
<text x="1.8" y="422.8" text-anchor="middle" class="s" font-size="12.5" fill="#111">M</text><text x="10.3" y="422.8" text-anchor="middle" class="s" font-size="12.5" fill="#111">A</text><text x="18.7" y="422.8" text-anchor="middle" class="s" font-size="12.5" fill="#111">C</text><text x="27.2" y="422.8" text-anchor="middle" class="s" font-size="12.5" fill="#111">D</text><text x="35.6" y="422.8" text-anchor="middle" class="s" font-size="12.5" fill="#111">=</text><text x="61.0" y="422.8" text-anchor="middle" class="s" font-size="12.5" fill="#111">+</text><text x="69.4" y="422.8" text-anchor="middle" class="s" font-size="12.5" fill="#111">0</text><text x="77.9" y="422.8" text-anchor="middle" class="s" font-size="12.5" fill="#111">-</text><text x="86.3" y="422.8" text-anchor="middle" class="s" font-size="12.5" fill="#111">1</text><text x="94.8" y="422.8" text-anchor="middle" class="s" font-size="12.5" fill="#111">.</text><text x="103.2" y="422.8" text-anchor="middle" class="s" font-size="12.5" fill="#111">8</text><text x="111.7" y="422.8" text-anchor="middle" class="s" font-size="12.5" fill="#111">0</text><text x="120.1" y="422.8" text-anchor="middle" class="s" font-size="12.5" fill="#111">'</text>
<text x="1.8" y="436.2" text-anchor="middle" class="s" font-size="12.5" fill="#111">M</text><text x="10.3" y="436.2" text-anchor="middle" class="s" font-size="12.5" fill="#111">A</text><text x="18.7" y="436.2" text-anchor="middle" class="s" font-size="12.5" fill="#111">C</text><text x="27.2" y="436.2" text-anchor="middle" class="s" font-size="12.5" fill="#111">D</text><text x="35.6" y="436.2" text-anchor="middle" class="s" font-size="12.5" fill="#111">A</text><text x="44.1" y="436.2" text-anchor="middle" class="s" font-size="12.5" fill="#111">=</text><text x="61.0" y="436.2" text-anchor="middle" class="s" font-size="12.5" fill="#111">+</text><text x="69.4" y="436.2" text-anchor="middle" class="s" font-size="12.5" fill="#111">1</text><text x="77.9" y="436.2" text-anchor="middle" class="s" font-size="12.5" fill="#111">-</text><text x="86.3" y="436.2" text-anchor="middle" class="s" font-size="12.5" fill="#111">2</text><text x="94.8" y="436.2" text-anchor="middle" class="s" font-size="12.5" fill="#111">.</text><text x="103.2" y="436.2" text-anchor="middle" class="s" font-size="12.5" fill="#111">8</text><text x="111.7" y="436.2" text-anchor="middle" class="s" font-size="12.5" fill="#111">5</text><text x="120.1" y="436.2" text-anchor="middle" class="s" font-size="12.5" fill="#111">'</text>
<rect x="0" y="440" width="827" height="1.2" fill="#999"/>
<rect x="27.2" y="440" width="1.2" height="15" fill="#777"/>
<text x="29.3" y="453.3" class="s" font-size="14.5" fill="#111">22</text>
<rect x="69.4" y="440" width="1.2" height="15" fill="#777"/>
<text x="71.5" y="453.3" class="s" font-size="14.5" fill="#111">29</text>
<rect x="94.7" y="440" width="1.2" height="15" fill="#777"/>
<text x="96.8" y="453.3" class="s" font-size="14.5" fill="#111">01</text>
<rect x="153.9" y="440" width="1.2" height="15" fill="#777"/>
<text x="156.0" y="453.3" class="s" font-size="14.5" fill="#111">12</text>
<rect x="195.3" y="440" width="1.2" height="15" fill="#777"/>
<text x="197.4" y="453.3" class="s" font-size="14.5" fill="#111">19</text>
<rect x="237.1" y="440" width="1.2" height="15" fill="#777"/>
<text x="239.2" y="453.3" class="s" font-size="14.5" fill="#111">26</text>
<rect x="279.0" y="440" width="1.2" height="15" fill="#777"/>
<text x="281.1" y="453.3" class="s" font-size="14.5" fill="#111">03</text>
<rect x="313.0" y="440" width="1.2" height="15" fill="#777"/>
<text x="315.1" y="453.3" class="s" font-size="14.5" fill="#111">09</text>
<rect x="355.2" y="440" width="1.2" height="15" fill="#777"/>
<text x="357.3" y="453.3" class="s" font-size="14.5" fill="#111">16</text>
<rect x="397.4" y="440" width="1.2" height="15" fill="#777"/>
<text x="399.5" y="453.3" class="s" font-size="14.5" fill="#111">23</text>
<rect x="448.0" y="440" width="1.2" height="15" fill="#777"/>
<text x="450.1" y="453.3" class="s" font-size="14.5" fill="#111">01</text>
<rect x="481.7" y="440" width="1.2" height="15" fill="#777"/>
<text x="483.8" y="453.3" class="s" font-size="14.5" fill="#111">07</text>
<rect x="523.9" y="440" width="1.2" height="15" fill="#777"/>
<text x="526.0" y="453.3" class="s" font-size="14.5" fill="#111">14</text>
<rect x="566.1" y="440" width="1.2" height="15" fill="#777"/>
<text x="568.2" y="453.3" class="s" font-size="14.5" fill="#111">21</text>
<rect x="607.1" y="440" width="1.2" height="15" fill="#777"/>
<text x="609.2" y="453.3" class="s" font-size="14.5" fill="#111">28</text>
<rect x="640.8" y="440" width="1.2" height="15" fill="#777"/>
<text x="642.9" y="453.3" class="s" font-size="14.5" fill="#111">01</text>
<rect x="691.5" y="440" width="1.2" height="15" fill="#777"/>
<text x="693.6" y="453.3" class="s" font-size="14.5" fill="#111">11</text>
<rect x="733.6" y="440" width="1.2" height="15" fill="#777"/>
<text x="735.7" y="453.3" class="s" font-size="14.5" fill="#111">18</text>
<rect x="775.8" y="440" width="1.2" height="15" fill="#777"/>
<text x="777.9" y="453.3" class="s" font-size="14.5" fill="#111">25</text>
<rect x="809.5" y="440" width="1.2" height="15" fill="#777"/>
<text x="811.6" y="453.3" class="s" font-size="14.5" fill="#111">02</text>
<text x="281.5" y="438.3" class="s" font-size="13.5" fill="#111" letter-spacing="0.3">Sep</text>
<text x="642.3" y="438.3" class="s" font-size="13.5" fill="#111" letter-spacing="0.3">Nov</text>
<text x="453" y="438.3" class="s" font-size="13.5" fill="#111" text-anchor="middle" transform="translate(453 0) scale(0.78 1) translate(-453 0)">O</text>
<text x="461.9" y="438.3" class="s" font-size="13.5" fill="#111" text-anchor="middle">c</text>
<text x="469.7" y="438.3" class="s" font-size="13.5" fill="#111" text-anchor="middle">t</text>
<polygon points="877.6,448.8 882,444.6 882,446.9 887,446.9 887,450.8 882,450.8 882,453" fill="#ff0000"/>
<text x="199" y="58" class="m" font-size="24" fill="#111">March Corn</text>
<text class="m" font-size="12" fill="#ff00ff"><tspan x="195" y="142">40-day</tspan><tspan x="195" y="154">moving</tspan><tspan x="195" y="166">average</tspan></text>
<text class="m" font-size="12" fill="#9b1f2a"><tspan x="544" y="95">Resistance</tspan><tspan x="544" y="107">at $4.35 3/4</tspan></text>
<text class="m" font-size="12" fill="#ff2020"><tspan x="628" y="213.7">Support at $4.23 1/4</tspan></text>
<text class="m" font-size="12" fill="#1c1cd8"><tspan x="375" y="290.2">Bulls lose overall near-term technical</tspan><tspan x="375" y="302">advantage as price uptrend negated and</tspan><tspan x="375" y="313.8">prices now trending down.</tspan></text>
<text class="m" font-size="12" fill="#111"><tspan x="695.5" y="398.6">MACD posture</tspan><tspan x="695.5" y="410">is bearish</tspan></text>
</svg></body></html>
